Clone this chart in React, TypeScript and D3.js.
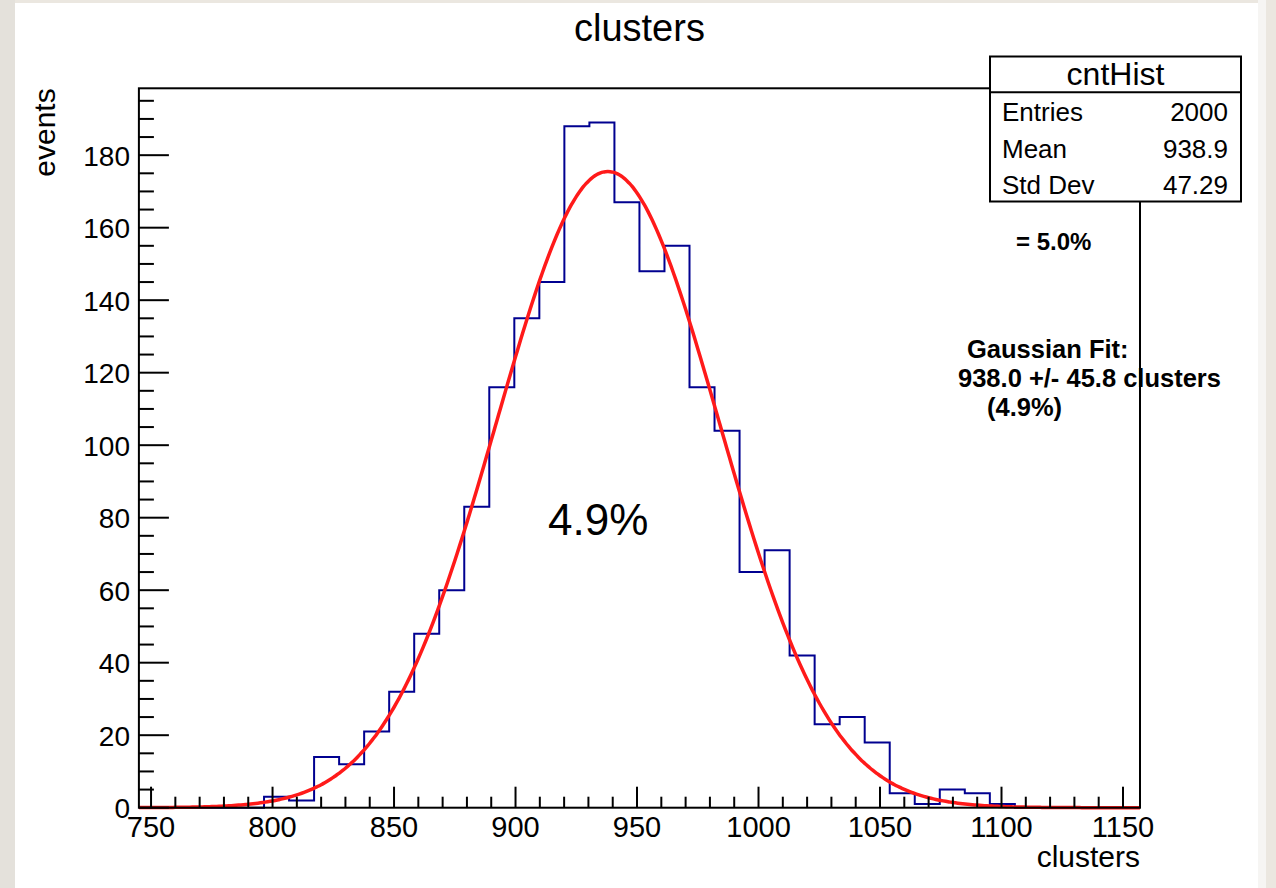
import React from "react";
import * as d3 from "d3";

// ---- data ----
const binLow = 745;
const binHigh = 1157;
const binCounts = [
  0, 0, 0, 0, 0, 3, 2, 14, 12, 21, 32, 48, 60, 83, 116, 135, 145, 188, 189, 167,
  148, 155, 116, 104, 65, 71, 42, 23, 25, 18, 4, 1, 5, 4, 1, 0, 0, 0, 0, 0,
];
const xMajorTicks = [750, 800, 850, 900, 950, 1000, 1050, 1100, 1150];
const yMajorTicks = [0, 20, 40, 60, 80, 100, 120, 140, 160, 180];
const fitConstant = 175.5;
const fitMean = 938.0;
const fitSigma = 45.8;
const statsRows = [
  ["Entries", "2000"],
  ["Mean", "938.9"],
  ["Std Dev", "47.29"],
];
const yMax = 198.45;

const W = 1276;
const H = 888;
const frame = { left: 138.9, right: 1140, top: 88.3, bottom: 807.7 };
const FONT = "'Liberation Sans', Arial, Helvetica, sans-serif";

export default function App() {
  const x = d3.scaleLinear().domain([binLow, binHigh]).range([frame.left, frame.right]);
  const y = d3.scaleLinear().domain([0, yMax]).range([frame.bottom, frame.top]);
  const nb = binCounts.length;
  const bw = (binHigh - binLow) / nb;

  const pts: [number, number][] = [];
  binCounts.forEach((c, i) => {
    pts.push([binLow + i * bw, c]);
    pts.push([binLow + (i + 1) * bw, c]);
  });
  const histLine = d3
    .line<[number, number]>()
    .x((d) => x(d[0]))
    .y((d) => y(d[1]));

  const fitPts: [number, number][] = d3
    .range(binLow, binHigh + 0.001, 1)
    .map((v) => [v, fitConstant * Math.exp(-0.5 * ((v - fitMean) / fitSigma) ** 2)]);
  const fitLine = d3
    .line<[number, number]>()
    .x((d) => x(d[0]))
    .y((d) => y(d[1]))
    .curve(d3.curveMonotoneX);

  const xMinor = d3.range(750, binHigh, 10).filter((v) => v % 50 !== 0);
  const yMinor = d3.range(0, yMax, 5).filter((v) => v % 20 !== 0);

  const box = { left: 990, right: 1241, top: 56.5, mid: 92.3, bottom: 201.5 };

  return (
    <svg
      width={W}
      height={H}
      style={{ position: "absolute", left: 0, top: 0, display: "block" }}
      fontFamily={FONT}
    >
      <rect x={0} y={0} width={W} height={H} fill="#ebe7e0" />
      <rect x={0} y={0} width={15} height={H} fill="#e4e1db" />
      <rect x={1258} y={0} width={8} height={H} fill="#f6f5f3" />
      <rect x={15} y={3} width={1243} height={H - 3} fill="#ffffff" />

      {/* title */}
      <text x={(frame.left + frame.right) / 2} y={41} fontSize={38} textAnchor="middle" fill="#000">
        clusters
      </text>

      {/* histogram */}
      <path d={histLine(pts) || ""} fill="none" stroke="#000090" strokeWidth={2} />
      {/* fit */}
      <path d={fitLine(fitPts) || ""} fill="none" stroke="#ff1a1a" strokeWidth={3.5} />

      {/* frame */}
      <rect
        x={frame.left}
        y={frame.top}
        width={frame.right - frame.left}
        height={frame.bottom - frame.top}
        fill="none"
        stroke="#000"
        strokeWidth={2}
      />

      {/* x ticks */}
      {xMajorTicks.map((t) => (
        <g key={"xm" + t}>
          <line x1={x(t)} x2={x(t)} y1={frame.bottom} y2={frame.bottom - 21} stroke="#000" strokeWidth={2} />
          <text x={x(t)} y={837} fontSize={29} textAnchor="middle" fill="#000">
            {t}
          </text>
        </g>
      ))}
      {xMinor.map((t) => (
        <line key={"xn" + t} x1={x(t)} x2={x(t)} y1={frame.bottom} y2={frame.bottom - 11} stroke="#000" strokeWidth={2} />
      ))}

      {/* y ticks */}
      {yMajorTicks.map((t) => (
        <g key={"ym" + t}>
          <line x1={frame.left} x2={frame.left + 30} y1={y(t)} y2={y(t)} stroke="#000" strokeWidth={2} />
          <text x={130} y={y(t) + 10.5} fontSize={28} textAnchor="end" fill="#000">
            {t}
          </text>
        </g>
      ))}
      {yMinor.map((t) => (
        <line key={"yn" + t} x1={frame.left} x2={frame.left + 15} y1={y(t)} y2={y(t)} stroke="#000" strokeWidth={2} />
      ))}

      {/* axis titles */}
      <text
        transform={`translate(55, ${frame.top}) rotate(-90)`}
        fontSize={30}
        textAnchor="end"
        fill="#000"
      >
        events
      </text>
      <text x={frame.right} y={867} fontSize={30} textAnchor="end" fill="#000">
        clusters
      </text>

      {/* stats box */}
      <rect
        x={box.left}
        y={box.top}
        width={box.right - box.left}
        height={box.bottom - box.top}
        fill="#fff"
        stroke="#000"
        strokeWidth={2}
      />
      <line x1={box.left} x2={box.right} y1={box.mid} y2={box.mid} stroke="#000" strokeWidth={2} />
      <text x={(box.left + box.right) / 2} y={85} fontSize={32} textAnchor="middle" fill="#000">
        cntHist
      </text>
      {statsRows.map((r, i) => (
        <g key={r[0]}>
          <text x={1002} y={121 + i * 36.5} fontSize={26} fill="#000">
            {r[0]}
          </text>
          <text x={1228} y={121 + i * 36.5} fontSize={26} textAnchor="end" fill="#000">
            {r[1]}
          </text>
        </g>
      ))}

      {/* annotations */}
      <text x={1016} y={250} fontSize={24} fontWeight="bold" fill="#000">
        = 5.0%
      </text>
      <text x={967} y={358} fontSize={25.5} fontWeight="bold" fill="#000">
        Gaussian Fit:
      </text>
      <text x={958} y={387} fontSize={25.5} fontWeight="bold" fill="#000">
        938.0 +/- 45.8 clusters
      </text>
      <text x={987} y={416} fontSize={25.5} fontWeight="bold" fill="#000">
        (4.9%)
      </text>
      <text x={548} y={535} fontSize={44} fill="#000">
        4.9%
      </text>
    </svg>
  );
}
